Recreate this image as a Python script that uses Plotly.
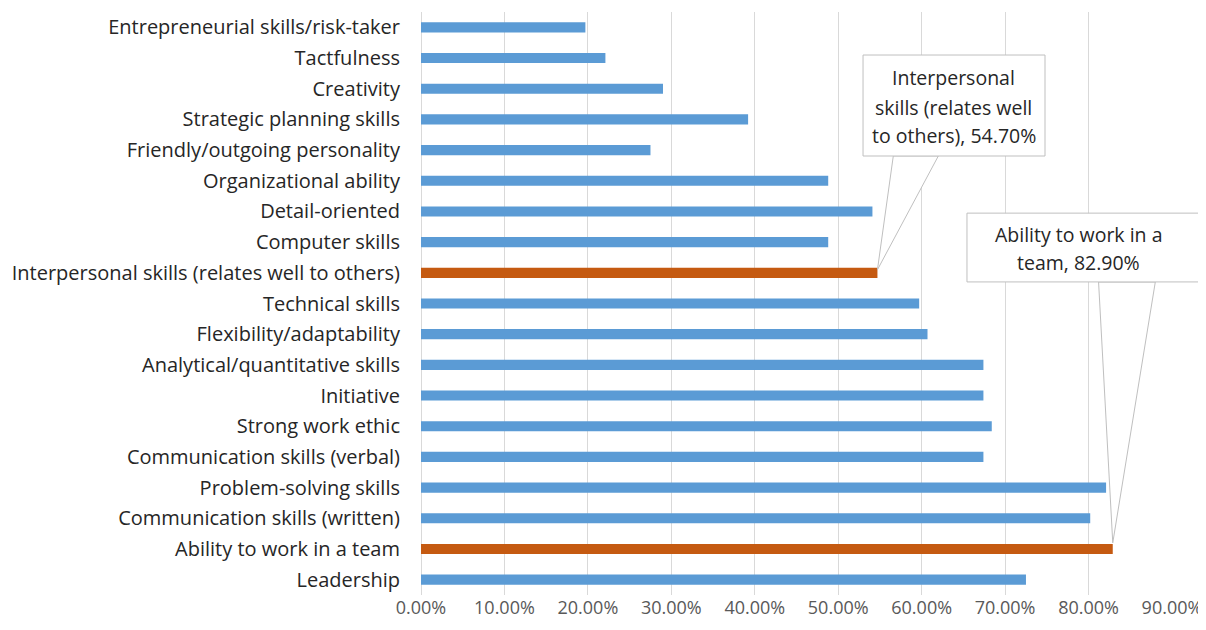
import plotly.graph_objects as go

categories = [
    "Entrepreneurial skills/risk-taker",
    "Tactfulness",
    "Creativity",
    "Strategic planning skills",
    "Friendly/outgoing personality",
    "Organizational ability",
    "Detail-oriented",
    "Computer skills",
    "Interpersonal skills (relates well to others)",
    "Technical skills",
    "Flexibility/adaptability",
    "Analytical/quantitative skills",
    "Initiative",
    "Strong work ethic",
    "Communication skills (verbal)",
    "Problem-solving skills",
    "Communication skills (written)",
    "Ability to work in a team",
    "Leadership",
]
values = [0.197, 0.221, 0.290, 0.392, 0.275, 0.488, 0.541, 0.488, 0.547,
          0.597, 0.607, 0.674, 0.674, 0.684, 0.674, 0.821, 0.802, 0.829, 0.725]
highlighted = ["Interpersonal skills (relates well to others)", "Ability to work in a team"]

BLUE = "#5B9BD5"
ORANGE = "#C55A11"
BORDER = "#BFBFBF"
FONT = "Open Sans"
colors = [ORANGE if c in highlighted else BLUE for c in categories]

fig = go.Figure(go.Bar(
    x=values, y=categories, orientation="h",
    marker=dict(color=colors, line=dict(width=0)),
    hoverinfo="x+y",
))

# page has an 8px body margin, so the figure is drawn at (8, 8)
fig.update_layout(
    width=1198, height=614,
    margin=dict(l=413, r=34, t=4, b=27, autoexpand=False),
    paper_bgcolor="white", plot_bgcolor="white",
    bargap=0.67,
    showlegend=False,
    font=dict(family=FONT, color="#262626"),
)
fig.update_xaxes(
    range=[0, 0.9], dtick=0.1, tickformat=".2%",
    showgrid=True, gridcolor="#D9D9D9", gridwidth=1,
    zeroline=True, zerolinecolor="#D9D9D9", zerolinewidth=1,
    showline=False, ticks="", automargin=False, ticklabeloverflow="allow",
    tickfont=dict(family=FONT, size=18, color="#595959"),
)
fig.update_yaxes(
    autorange="reversed", showgrid=False, showline=False, ticks="",
    ticklabelstandoff=20, automargin=False,
    tickfont=dict(family=FONT, size=20, color="#262626"),
)

# callouts: box (paper coords), text line centers (paper), wedge base (data x pair, data y)
callouts = [
    dict(cat=highlighted[0], box=(0.5886, 0.753, 0.8309, 0.9262),
         lines=["Interpersonal", "skills (relates well", "to others)"],
         tx=0.7097, ty=[0.8868, 0.837, 0.789],
         wedge=((0.566, 0.620), 4.19), tip_dy=-0.1),
    dict(cat=highlighted[1], box=(0.727, 0.537, 1.040, 0.655),
         lines=["Ability to work in a", "team"],
         tx=0.876, ty=[0.6175, 0.5695],
         wedge=((0.812, 0.880), 8.30), tip_dy=-0.2),
]
for c in callouts:
    idx = categories.index(c["cat"])
    val = values[idx]
    (wx0, wx1), wy = c["wedge"]
    fig.add_shape(
        type="path", xref="x", yref="y",
        path=f"M {wx0} {wy} L {val} {idx + c['tip_dy']} L {wx1} {wy} Z",
        fillcolor="white", line=dict(color=BORDER, width=1), layer="above",
    )
    x0, y0, x1, y1 = c["box"]
    fig.add_shape(
        type="rect", xref="paper", yref="paper", x0=x0, y0=y0, x1=x1, y1=y1,
        fillcolor="white", line=dict(color=BORDER, width=1), layer="above",
    )
    texts = c["lines"][:-1] + [f"{c['lines'][-1]}, {val:.2%}"]
    for t, ty in zip(texts, c["ty"]):
        fig.add_annotation(
            x=c["tx"], y=ty, xref="paper", yref="paper", text=t, showarrow=False,
            xanchor="center", yanchor="middle",
            font=dict(family=FONT, size=19.5, color="#262626"),
        )

fig.write_html("out.html")
